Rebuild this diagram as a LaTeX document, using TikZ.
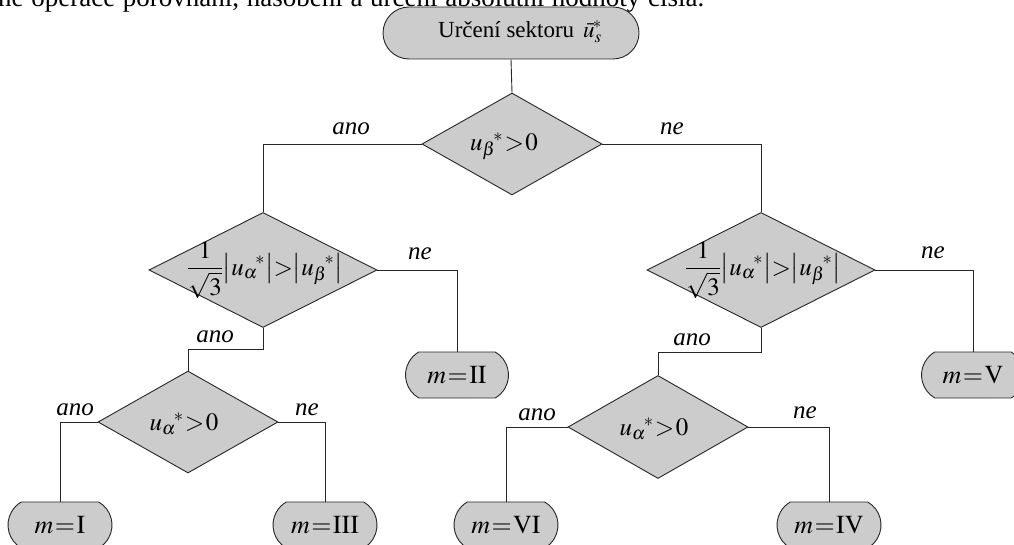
\documentclass[tikz,border=0pt]{standalone}
\usepackage{mathptmx}
\usepackage[no-math]{fontspec}
\setmainfont{Liberation Serif}
\usetikzlibrary{shapes.geometric,shapes.misc}

% star placed after the subscript, as in the chart's equations
\newcommand{\ust}[1]{{u_{#1}}^{\!*}}
\newcommand{\mEq}[1]{$m\mskip1mu{=}\mskip1mu\mathrm{#1}$}
\newcommand{\sectorTest}{$\displaystyle\frac{1}{\sqrt{3}}\bigl|\ust{\alpha}\bigr|{>}\bigl|\ust{\beta}\bigr|$}

\begin{document}
\begin{tikzpicture}[x=1pt,y=-1pt,
  conn/.style={draw=black!85, line width=0.9pt},
  decision/.style n args={2}{diamond, draw=black!85, fill=gray!40, line width=0.9pt,
    inner sep=0pt, minimum width=#1, minimum height=#2},
  terminal/.style n args={2}{rounded rectangle, rounded rectangle arc length=#2,
    draw=black!85, fill=gray!40, line width=0.9pt, inner sep=0pt,
    minimum width=#1, minimum height=46pt, font=\fontsize{26}{30}\selectfont},
  branch/.style={font=\fontsize{25}{29}\selectfont\itshape, inner sep=0pt},
  cond/.style={font=\fontsize{25}{29}\selectfont, inner sep=0pt}
]
\useasboundingbox (0,0) rectangle (1014,545);
\clip (0,0) rectangle (1014,545);

% running text above the chart (a justified line)
\node[anchor=base west, inner sep=0pt, font=\fontsize{27}{31}\selectfont] (caption) at (-2,7)
  {\makebox[706pt][s]{ne operace porovnání, násobení a určení absolutní hodnoty čísla.}};

% start terminal
\node[rounded rectangle, draw=black!85, fill=gray!40, line width=0.9pt, inner sep=0pt,
  minimum width=256pt, minimum height=52pt] (start) at (511,33) {};
\node[inner sep=0pt, font=\fontsize{23}{27}\selectfont] (startText) at (520,32)
  {Určení sektoru\hspace{9pt}${\bar{u}_{s}}^{\!*}$};

% decisions
\node[decision={180pt}{102pt}] (d1) at (512,144) {};
\node[cond] (t1) at (504,146) {$\ust{\beta}\mskip1mu{>}\mskip1mu0$};

\node[decision={228pt}{115pt}] (d2) at (263,270) {};
\node[cond] (t2) at (265,270) {\sectorTest};

\node[decision={228pt}{115pt}] (d3) at (761,270) {};
\node[cond] (t3) at (763,270) {\sectorTest};

\node[decision={180pt}{102pt}] (d4) at (188,422) {};
\node[cond] (t4) at (184,424) {$\ust{\alpha}\mskip1mu{>}\mskip1mu0$};

\node[decision={180pt}{103pt}] (d5) at (658,427) {};
\node[cond] (t5) at (654,429) {$\ust{\alpha}\mskip1mu{>}\mskip1mu0$};

% results
\node[terminal={103pt}{120}] (m2) at (457,375) {\mEq{II}};
\node[terminal={103pt}{120}] (m5) at (973,375) {\mEq{V}};
\node[terminal={104pt}{120}] (m1) at (60,525) {\mEq{I}};
\node[terminal={104pt}{120}] (m3) at (325,525) {\mEq{III}};
\node[terminal={104pt}{120}] (m6) at (506,525) {\mEq{VI}};
\node[terminal={104pt}{120}] (m4) at (829,525) {\mEq{IV}};

% connectors
\draw[conn] (start.south) -- (d1.north);
\draw[conn] (d1.west) -| (d2.north);
\draw[conn] (d1.east) -| (d3.north);
\draw[conn] (d2.east) -| (m2.north);
\draw[conn] (d2.south) -- ++(0,21) -| (d4.north);
\draw[conn] (d3.east) -| (m5.north);
\draw[conn] (d3.south) -- ++(0,24) -| (d5.north);
\draw[conn] (d4.west) -| (m1.north);
\draw[conn] (d4.east) -| (m3.north);
\draw[conn] (d5.west) -| (m6.north);
\draw[conn] (d5.east) -| (m4.north);

% branch labels
\node[branch] (a1) at (351,129) {ano};
\node[branch] (n1) at (672,129) {ne};
\node[branch] (n2) at (420,254) {ne};
\node[branch] (a2) at (215,337) {ano};
\node[branch] (n3) at (933,253) {ne};
\node[branch] (a3) at (692,340) {ano};
\node[branch] (a4) at (75,410) {ano};
\node[branch] (n4) at (307,410) {ne};
\node[branch] (a5) at (537,415) {ano};
\node[branch] (n5) at (805,413) {ne};
\end{tikzpicture}
\end{document}
